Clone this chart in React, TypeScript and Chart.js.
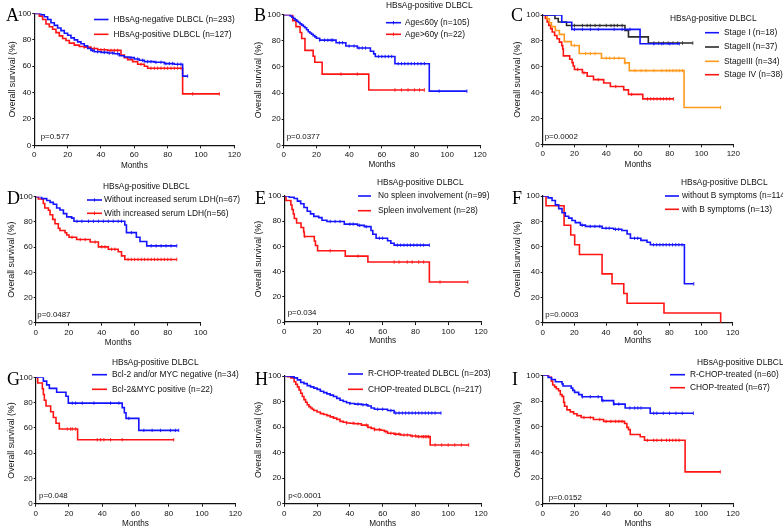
import React, { useEffect, useRef } from 'react';
import { Chart, registerables } from 'chart.js';

Chart.register(...registerables);

// ---------------- DATA (time in months, survival in %) ----------------
// Panel A
const A_neg_t = [0, 4, 6, 8, 10, 12, 14, 16, 18, 20, 22, 24, 26, 28, 30, 32, 34, 36, 40, 44, 48, 51, 54, 57, 60, 63, 66, 72, 78, 84, 89, 92];
const A_neg_s = [100, 99, 97.5, 95.5, 93, 91, 89, 87, 85, 83.5, 81.5, 80, 78.5, 77, 75.5, 73.5, 72, 71, 70.5, 70, 69.5, 68, 67, 66.5, 65.5, 64.5, 63.5, 63, 62, 61.5, 52.5, 52.5];
const A_neg_c = [35, 38, 42, 45, 47, 50, 58, 62, 65, 68, 70, 73, 76, 79, 81, 83, 86, 88, 92];
const A_pos_t = [0, 3, 5, 7, 9, 11, 13, 15, 17, 19, 21, 24, 27, 30, 34, 38, 44, 52, 54, 56, 59, 62, 66, 68, 89, 111];
const A_pos_s = [100, 98, 95.5, 92, 90, 88, 85.5, 83, 81, 79.5, 77.5, 76, 75, 74.5, 73.5, 72.5, 72, 68.5, 66.5, 65, 63.5, 61.5, 60, 58.5, 39, 39];
const A_pos_c = [30, 36, 40, 42, 46, 48, 50, 64, 70, 72, 74, 76, 78, 80, 82, 84, 86, 88, 95, 111];
// Panel B
const B_young_t = [0, 4, 5, 6, 7, 8, 9, 10, 11, 12, 13, 14, 15, 16, 17, 18, 19, 20, 22, 32, 38, 45, 53, 55, 56, 68, 89, 112];
const B_young_s = [100, 99, 98, 97, 96, 95, 94, 93, 92, 91, 90, 88.5, 87, 86, 85, 84, 83, 82, 80.5, 78.5, 76, 74.5, 72, 70, 68, 62.5, 41.5, 41.5];
const B_young_c = [22, 25, 27, 29, 30, 34, 36, 40, 43, 46, 48, 50, 58, 60, 62, 64, 66, 70, 72, 74, 76, 78, 80, 82, 84, 86, 95, 112];
const B_old_t = [0, 5.5, 7.5, 10, 11, 13, 18, 19, 23.5, 52, 86];
const B_old_s = [100, 95.5, 90.9, 86.4, 81.8, 72.7, 68.2, 63.6, 54.5, 42.4, 42.4];
const B_old_c = [35, 45, 68, 72, 76, 80, 83, 86];
// Panel C
const C_s1_t = [0, 12, 18.3, 61.3, 86];
const C_s1_s = [100, 94.4, 88.9, 77.8, 77.8];
const C_s1_c = [20, 25, 30, 35, 45, 50, 55, 70, 75, 80, 86];
const C_s2_t = [0, 7.7, 9.8, 15, 51.8, 54, 66.5, 94.5];
const C_s2_s = [100, 97.3, 94.6, 91.9, 88, 83.1, 78.3, 78.3];
const C_s2_c = [20, 25, 28, 30, 33, 36, 40, 43, 45, 47, 50, 70, 73, 76, 79, 82, 85, 88, 94.5];
const C_s3_t = [0, 2.7, 4.2, 5.5, 8, 10.5, 13.6, 18, 23, 37, 51.6, 54.5, 89, 112];
const C_s3_s = [100, 97, 94, 91, 88, 85, 79.4, 76.4, 70.2, 66.6, 63, 57, 28.5, 28.5];
const C_s3_c = [20, 27, 30, 33, 40, 42, 45, 48, 52, 58, 62, 65, 70, 75, 78, 80, 82, 84, 86, 88, 112];
const C_s4_t = [0, 1.7, 2.8, 3.8, 5, 6, 7.5, 9, 10.5, 12, 12.6, 13, 17, 18.5, 19.2, 20, 25, 28, 32, 38.4, 42.6, 51, 54, 63, 82.4];
const C_s4_s = [100, 97.4, 94.7, 92, 89.5, 86.8, 84.2, 81.6, 79, 76.3, 73.7, 68.4, 65.8, 63.2, 60.5, 57.9, 55.3, 52.6, 50, 47.4, 44.7, 42.1, 38.6, 35.1, 35.1];
const C_s4_c = [22, 26, 35, 46, 56, 66, 68, 70, 72, 74, 76, 78, 80, 82.4];
// Panel D
const D_no_t = [0, 3.6, 6.7, 8.7, 10.7, 12.7, 14.7, 16.8, 18.8, 21.8, 23.2, 54, 55, 61, 63.2, 67.3, 85.5];
const D_no_s = [100, 98.5, 97, 95.5, 94, 91, 89.5, 86.6, 84, 83, 80.5, 77.5, 71.5, 67.8, 64.5, 61, 61];
const D_no_c = [25, 28, 32, 35, 38, 41, 44, 47, 50, 52, 58, 70, 73, 76, 79, 82, 85.5];
const D_yes_t = [0, 1.6, 4.6, 5.5, 7.7, 8.7, 10.3, 11.7, 13.7, 14.7, 17.8, 18.8, 20.2, 24.8, 33, 38, 44, 50, 52, 54, 85.5];
const D_yes_s = [100, 98.2, 94.6, 91, 89.3, 85.7, 82, 78.5, 75, 73.2, 71.4, 69.6, 67.8, 66, 64, 60.2, 58.3, 56.3, 53, 50.2, 50.2];
const D_yes_c = [22, 27, 30, 36, 40, 42, 46, 48, 56, 58, 60, 62, 64, 66, 68, 70, 72, 74, 76, 78, 80, 82, 85.5];
// Panel E
const E_no_t = [0, 3, 6, 8, 10, 12, 14, 16, 18, 21, 23, 26, 36.6, 44.7, 48.8, 52.9, 54, 56, 63, 65, 67, 88.5];
const E_no_s = [100, 99, 98, 95.9, 93.9, 90.9, 87.9, 85.8, 83.8, 82.8, 80.8, 79.8, 77.7, 76.7, 75.7, 72.6, 69.6, 66.5, 64.5, 62.5, 61, 61];
const E_no_c = [28, 31, 34, 40, 42, 46, 50, 58, 60, 69, 71, 73, 75, 77, 79, 81, 83, 85, 88.5];
const E_sp_t = [0, 1, 4, 4.7, 5.5, 6.1, 7.5, 10.2, 11.8, 12.2, 18.3, 19, 20.3, 37.2, 51, 88.5, 112];
const E_sp_s = [100, 96.4, 92.9, 89.3, 85.7, 82.1, 78.6, 75, 71.4, 67.9, 64.3, 60.7, 56.6, 52.3, 47.6, 31.7, 31.7];
const E_sp_c = [12.5, 28, 45, 67, 70, 75, 78, 82, 85, 95, 112];
// Panel F
const F_no_t = [0, 3.4, 5.9, 8, 10.1, 12.2, 14.3, 16.4, 18.5, 20.6, 23.8, 27, 37.5, 44.8, 50, 53.3, 55.4, 62, 65.9, 68, 89.5, 95.4];
const F_no_s = [100, 98.5, 96.5, 93, 90, 86.8, 84, 82.5, 80.7, 79, 77, 76, 74.6, 73.7, 72.8, 70, 66.6, 65, 63.5, 61.5, 30.7, 30.7];
const F_no_c = [25, 30, 33, 36, 40, 42, 46, 48, 58, 60, 70, 72, 74, 76, 78, 80, 82, 84, 86, 88, 95.4];
const F_b_t = [0, 2.1, 13.5, 17.7, 20.2, 23.2, 37.5, 43.8, 51.2, 53.3, 76.6, 112.4];
const F_b_s = [100, 92.3, 76.9, 69.2, 61.5, 53.8, 38.5, 30.8, 23.1, 15.4, 7.7, 0];
const F_b_c: number[] = [];
// Panel G
const G_neg_t = [0, 4.6, 6.6, 8.2, 12.6, 18.2, 19.6, 52, 53.3, 54.3, 62, 86];
const G_neg_s = [100, 97, 94, 91.2, 88.2, 85, 79.6, 76, 72, 67.5, 58, 58];
const G_neg_c = [22, 24, 28, 35, 45, 50, 56, 65, 70, 75, 81, 84, 86];
const G_pos_t = [0, 1.2, 4, 4.6, 5.2, 6.2, 9, 10.6, 12.2, 14.2, 25.2, 83];
const G_pos_s = [100, 95.5, 90.9, 86.4, 81.8, 77.3, 72.7, 68.2, 63.6, 59.1, 50.6, 50.6];
const G_pos_c = [19, 21, 22, 24, 37, 39, 41, 45, 52, 83];
// Panel H
const H_r_t = [0, 4, 6, 8, 10, 12, 14, 16, 18, 20, 22, 24, 26, 28, 30, 32, 34, 36, 38, 40, 43, 47, 51, 53, 55, 61, 63, 67, 95.6];
const H_r_s = [100, 99.5, 98.5, 97, 95, 94, 92.5, 91.5, 90.5, 89.5, 88, 87, 86, 85, 84, 82.5, 81, 80, 79, 78.5, 78, 77.5, 76.5, 75, 74, 74, 73, 71, 71];
const H_r_c = [40, 45, 48, 50, 57, 60, 65, 68, 70, 72, 74, 76, 78, 80, 82, 84, 86, 88, 90, 92, 95.6];
const H_c_t = [0, 2, 4, 6, 7, 8, 9, 10, 11, 12, 13, 14, 15, 16, 17, 18, 20, 22, 24, 26, 28, 30, 32, 34, 36, 38, 40, 43, 47, 51, 53, 55, 59, 61, 63, 67, 71, 77, 81, 89, 112.5];
const H_c_s = [100, 99.5, 98.5, 95.5, 93.5, 91.5, 89, 86.5, 84, 81.5, 79.5, 77.5, 76, 75, 74, 73, 71.8, 70.5, 69.8, 69, 68, 67, 66, 64.5, 63.8, 63.2, 63, 62.6, 61.5, 59.8, 59, 58, 57.5, 56.5, 55.2, 54.5, 53.8, 53, 52.5, 46, 46];
const H_c_c = [38, 42, 45, 50, 55, 58, 62, 65, 68, 70, 73, 75, 78, 80, 82, 84, 85, 86, 87, 88, 92, 96, 100, 104, 108, 112.5];
// Panel I
const I_r_t = [0, 3.4, 5.5, 8, 12.2, 12.8, 18, 19, 20.1, 22.7, 24.8, 37.3, 44.7, 52, 67.8, 95];
const I_r_s = [100, 98.3, 96.7, 95, 93.3, 91.7, 90, 88.3, 86.7, 85, 83.3, 80.3, 77.6, 74.6, 70.5, 70.5];
const I_r_c = [25, 30, 35, 38, 45, 48, 55, 58, 60, 62, 70, 72, 76, 80, 84, 88, 95];
const I_c_t = [0, 3.8, 5.5, 6.3, 7.5, 8.6, 10, 11.1, 12.2, 13.2, 13.8, 15.3, 17.4, 19.5, 21.6, 24.3, 32, 38.4, 51.6, 53.1, 54.1, 55.2, 61.5, 64.2, 89.8, 112];
const I_c_s = [100, 98.5, 95.5, 92.5, 91, 89.5, 88, 85, 83.6, 79, 76, 73.1, 71.6, 70.1, 68.7, 67.2, 65.7, 64.2, 62.5, 59.5, 57.8, 54, 52.2, 49.5, 25, 25];
const I_c_c = [26, 30, 36, 40, 43, 46, 48, 50, 66, 70, 72, 75, 78, 80, 82, 84, 86, 112];

const Y_TICKS = [0, 20, 40, 60, 80, 100];
const Y_TITLE = 'Overall survival (%)';
const X_TITLE = 'Months';
const SUBTITLE = 'HBsAg-positive DLBCL';

// ---------------- STYLE ----------------
const SANS = '"Liberation Sans", Arial, sans-serif';
const SERIF = '"Liberation Serif", "Times New Roman", serif';
const BLUE = '#1414ff';
const RED = '#ff1414';
const ORANGE = '#ff9a1e';
const BLACK = '#2a2a2a';
const TEXT = '#111111';
const AXIS = '#111111';
const TICK_SIZE = 8;
const Y_TITLE_SIZE = 8.8;
const X_TITLE_SIZE = 8.2;
const LEGEND_SIZE = 8.4;
const P_SIZE = 7.9;
const LINE_W = 1.6;

type Curve = { t: number[]; s: number[]; c: number[]; color: string; label: string };
type Panel = {
  letter: string; lx: number; ly: number;
  cx: number; cy: number; cw: number; ch: number;
  l: number; t: number; r: number; b: number;
  xMax: number; yTitleX: number; xTitleY: number;
  curves: Curve[];
  sub?: { x: number; y: number };
  leg: { x1: number; x2: number; tx: number; ys: number[]; tick?: boolean };
  p: { text: string; x: number; y: number };
};

const PANELS: Panel[] = [
  {
    letter: 'A', lx: 6, ly: 20.5, cx: 0, cy: 0, cw: 255, ch: 176,
    l: 34.3, t: 13.5, r: 234.3, b: 145.3, xMax: 120, yTitleX: 12.5, xTitleY: 165.7,
    curves: [
      { t: A_neg_t, s: A_neg_s, c: A_neg_c, color: BLUE, label: 'HBsAg-negative DLBCL (n=293)' },
      { t: A_pos_t, s: A_pos_s, c: A_pos_c, color: RED, label: 'HBsAg-positive DLBCL (n=127)' },
    ],
    leg: { x1: 94, x2: 108.5, tx: 113.5, ys: [19.5, 34.3] },
    p: { text: 'p=0.577', x: 40.7, y: 137.3 },
  },
  {
    letter: 'B', lx: 254, ly: 21, cx: 250, cy: 0, cw: 265, ch: 176,
    l: 283.7, t: 14.7, r: 480, b: 145.3, xMax: 120, yTitleX: 258.5, xTitleY: 165,
    curves: [
      { t: B_young_t, s: B_young_s, c: B_young_c, color: BLUE, label: 'Age≤60y (n=105)' },
      { t: B_old_t, s: B_old_s, c: B_old_c, color: RED, label: 'Age>60y (n=22)' },
    ],
    sub: { x: 386, y: 5.5 },
    leg: { x1: 386, x2: 401, tx: 405, ys: [22.7, 34.3], tick: true },
    p: { text: 'p=0.0377', x: 286.7, y: 137.3 },
  },
  {
    letter: 'C', lx: 511, ly: 21, cx: 508, cy: 0, cw: 275, ch: 176,
    l: 542.7, t: 15, r: 733.3, b: 144.3, xMax: 120, yTitleX: 518, xTitleY: 164.3,
    curves: [
      { t: C_s1_t, s: C_s1_s, c: C_s1_c, color: BLUE, label: 'Stage I (n=18)' },
      { t: C_s2_t, s: C_s2_s, c: C_s2_c, color: BLACK, label: 'StageII (n=37)' },
      { t: C_s3_t, s: C_s3_s, c: C_s3_c, color: ORANGE, label: 'StageIII (n=34)' },
      { t: C_s4_t, s: C_s4_s, c: C_s4_c, color: RED, label: 'Stage IV (n=38)' },
    ],
    sub: { x: 670, y: 19 },
    leg: { x1: 705, x2: 719, tx: 724, ys: [32.7, 47, 61.3, 74.7] },
    p: { text: 'p=0.0002', x: 544.7, y: 136.7 },
  },
  {
    letter: 'D', lx: 7, ly: 203.5, cx: 0, cy: 176, cw: 255, ch: 176,
    l: 35.7, t: 196.7, r: 200.7, b: 322.7, xMax: 100, yTitleX: 12, xTitleY: 342.7,
    curves: [
      { t: D_no_t, s: D_no_s, c: D_no_c, color: BLUE, label: 'Without increased serum LDH(n=67)' },
      { t: D_yes_t, s: D_yes_s, c: D_yes_c, color: RED, label: 'With increased serum LDH(n=56)' },
    ],
    sub: { x: 103, y: 186.7 },
    leg: { x1: 87, x2: 102, tx: 104, ys: [200, 213.3], tick: true },
    p: { text: 'p=0.0487', x: 37.3, y: 315.3 },
  },
  {
    letter: 'E', lx: 255, ly: 203.5, cx: 250, cy: 176, cw: 265, ch: 176,
    l: 284.3, t: 196, r: 481, b: 322, xMax: 120, yTitleX: 259, xTitleY: 341,
    curves: [
      { t: E_no_t, s: E_no_s, c: E_no_c, color: BLUE, label: 'No spleen involvement (n=99)' },
      { t: E_sp_t, s: E_sp_s, c: E_sp_c, color: RED, label: 'Spleen involvement (n=28)' },
    ],
    sub: { x: 377, y: 182.7 },
    leg: { x1: 358, x2: 371, tx: 378, ys: [196, 210.7] },
    p: { text: 'p=0.034', x: 287.7, y: 312.7 },
  },
  {
    letter: 'F', lx: 512, ly: 203.5, cx: 508, cy: 176, cw: 275, ch: 176,
    l: 542.7, t: 196, r: 732.7, b: 322.7, xMax: 120, yTitleX: 518, xTitleY: 341,
    curves: [
      { t: F_no_t, s: F_no_s, c: F_no_c, color: BLUE, label: 'without B symptoms (n=114)' },
      { t: F_b_t, s: F_b_s, c: F_b_c, color: RED, label: 'with B symptoms (n=13)' },
    ],
    sub: { x: 681, y: 182.7 },
    leg: { x1: 665, x2: 679, tx: 682, ys: [196, 209.3] },
    p: { text: 'p=0.0003', x: 545.3, y: 315 },
  },
  {
    letter: 'G', lx: 7, ly: 384.5, cx: 0, cy: 352, cw: 255, ch: 182,
    l: 35.7, t: 377.3, r: 235.3, b: 503.7, xMax: 120, yTitleX: 12, xTitleY: 523.7,
    curves: [
      { t: G_neg_t, s: G_neg_s, c: G_neg_c, color: BLUE, label: 'Bcl-2 and/or MYC negative (n=34)' },
      { t: G_pos_t, s: G_pos_s, c: G_pos_c, color: RED, label: 'Bcl-2&MYC positive (n=22)' },
    ],
    sub: { x: 112, y: 362.7 },
    leg: { x1: 92, x2: 107, tx: 112, ys: [374.7, 389.3] },
    p: { text: 'p=0.048', x: 39, y: 496 },
  },
  {
    letter: 'H', lx: 255, ly: 384.5, cx: 250, cy: 352, cw: 265, ch: 182,
    l: 284.3, t: 376, r: 481, b: 503.7, xMax: 120, yTitleX: 259, xTitleY: 523.7,
    curves: [
      { t: H_r_t, s: H_r_s, c: H_r_c, color: BLUE, label: 'R-CHOP-treated DLBCL (n=203)' },
      { t: H_c_t, s: H_c_s, c: H_c_c, color: RED, label: 'CHOP-treated DLBCL (n=217)' },
    ],
    leg: { x1: 348, x2: 363, tx: 368, ys: [374, 389.3] },
    p: { text: 'p<0.0001', x: 288.3, y: 496.3 },
  },
  {
    letter: 'I', lx: 512, ly: 384.5, cx: 508, cy: 352, cw: 275, ch: 182,
    l: 542.7, t: 375.3, r: 733, b: 504, xMax: 120, yTitleX: 518, xTitleY: 523.7,
    curves: [
      { t: I_r_t, s: I_r_s, c: I_r_c, color: BLUE, label: 'R-CHOP-treated (n=60)' },
      { t: I_c_t, s: I_c_s, c: I_c_c, color: RED, label: 'CHOP-treated (n=67)' },
    ],
    sub: { x: 697, y: 362.7 },
    leg: { x1: 670, x2: 685, tx: 690, ys: [374.7, 387.7] },
    p: { text: 'p=0.0152', x: 548.7, y: 497.7 },
  },
];

function stepAt(t: number[], s: number[], x: number) {
  let v = s[0];
  for (let i = 0; i < t.length; i++) if (t[i] <= x) v = s[i];
  return v;
}

function PanelChart({ p }: { p: Panel }) {
  const ref = useRef<HTMLCanvasElement | null>(null);
  useEffect(() => {
    const canvas = ref.current;
    if (!canvas) return;
    const yLH = Y_TITLE_SIZE * 1.2;
    const xLH = X_TITLE_SIZE * 1.2;
    const datasets: any[] = [];
    p.curves.forEach((c) => {
      datasets.push({
        data: c.t.map((x, i) => ({ x, y: c.s[i] })),
        stepped: true,
        borderColor: c.color,
        borderWidth: LINE_W,
        pointRadius: 0,
        fill: false,
      });
      datasets.push({
        data: c.c.map((x) => ({ x, y: stepAt(c.t, c.s, x) })),
        showLine: false,
        pointStyle: 'line',
        rotation: 90,
        pointRadius: 1.7,
        pointBorderWidth: 0.9,
        pointBorderColor: c.color,
        borderColor: c.color,
        backgroundColor: c.color,
      });
    });

    const decor = {
      id: 'decor',
      afterDraw(chart: any) {
        const ctx = chart.ctx as CanvasRenderingContext2D;
        const ox = p.cx, oy = p.cy;
        ctx.save();
        ctx.fillStyle = '#000';
        ctx.font = `18px ${SERIF}`;
        ctx.textBaseline = 'alphabetic';
        ctx.textAlign = 'left';
        ctx.fillText(p.letter, p.lx - ox, p.ly - oy);
        ctx.fillStyle = TEXT;
        ctx.font = `${LEGEND_SIZE}px ${SANS}`;
        ctx.textBaseline = 'middle';
        if (p.sub) ctx.fillText(SUBTITLE, p.sub.x - ox, p.sub.y - oy);
        p.curves.forEach((c, i) => {
          const y = p.leg.ys[i] - oy;
          ctx.strokeStyle = c.color;
          ctx.lineWidth = LINE_W;
          ctx.beginPath();
          ctx.moveTo(p.leg.x1 - ox, y);
          ctx.lineTo(p.leg.x2 - ox, y);
          ctx.stroke();
          if (p.leg.tick) {
            const mx = (p.leg.x1 + p.leg.x2) / 2 - ox;
            ctx.lineWidth = 0.9;
            ctx.beginPath();
            ctx.moveTo(mx, y - 1.7);
            ctx.lineTo(mx, y + 1.7);
            ctx.stroke();
          }
          ctx.fillStyle = TEXT;
          ctx.fillText(c.label, p.leg.tx - ox, y);
        });
        ctx.font = `${P_SIZE}px ${SANS}`;
        ctx.fillText(p.p.text, p.p.x - ox, p.p.y - oy);
        ctx.restore();
      },
    };

    const chart = new Chart(canvas, {
      type: 'line',
      data: { datasets },
      options: {
        animation: false,
        responsive: false,
        devicePixelRatio: 1,
        events: [],
        layout: {
          padding: { left: 0, top: p.t - p.cy, right: p.cx + p.cw - p.r, bottom: 0 },
        },
        plugins: { legend: { display: false }, tooltip: { enabled: false } },
        scales: {
          x: {
            type: 'linear',
            min: 0,
            max: p.xMax,
            ticks: {
              stepSize: 20,
              autoSkip: false,
              maxRotation: 0,
              font: { family: SANS, size: TICK_SIZE },
              color: TEXT,
              padding: 2,
            },
            grid: { drawOnChartArea: false, drawTicks: true, tickLength: 3, color: AXIS, lineWidth: 1 },
            border: { display: true, color: AXIS, width: 1.2 },
            title: {
              display: true,
              text: X_TITLE,
              font: { family: SANS, size: X_TITLE_SIZE },
              color: TEXT,
              padding: { top: 0, bottom: Math.max(0, p.cy + p.ch - p.xTitleY - xLH / 2) },
            },
            afterFit: (s: any) => {
              s.height = p.cy + p.ch - p.b;
            },
          },
          y: {
            type: 'linear',
            min: 0,
            max: 100,
            afterBuildTicks: (s: any) => {
              s.ticks = Y_TICKS.map((v) => ({ value: v }));
            },
            ticks: {
              font: { family: SANS, size: TICK_SIZE },
              color: TEXT,
              padding: 1,
            },
            grid: { drawOnChartArea: false, drawTicks: true, tickLength: 2, color: AXIS, lineWidth: 1 },
            border: { display: true, color: AXIS, width: 1.2 },
            title: {
              display: true,
              text: Y_TITLE,
              font: { family: SANS, size: Y_TITLE_SIZE },
              color: TEXT,
              padding: { top: Math.max(0, p.yTitleX - p.cx - yLH / 2), bottom: 0 },
            },
            afterFit: (s: any) => {
              s.width = p.l - p.cx;
            },
          },
        },
      } as any,
      plugins: [decor],
    });
    return () => chart.destroy();
  }, []);
  return (
    <canvas
      ref={ref}
      width={p.cw}
      height={p.ch}
      style={{ position: 'absolute', left: p.cx, top: p.cy, width: p.cw, height: p.ch }}
    />
  );
}

export default function App() {
  return (
    <div
      style={{
        position: 'absolute',
        left: 0,
        top: 0,
        width: 783,
        height: 528,
        overflow: 'hidden',
        background: '#ffffff',
      }}
    >
      {PANELS.map((p) => (
        <PanelChart key={p.letter} p={p} />
      ))}
    </div>
  );
}
